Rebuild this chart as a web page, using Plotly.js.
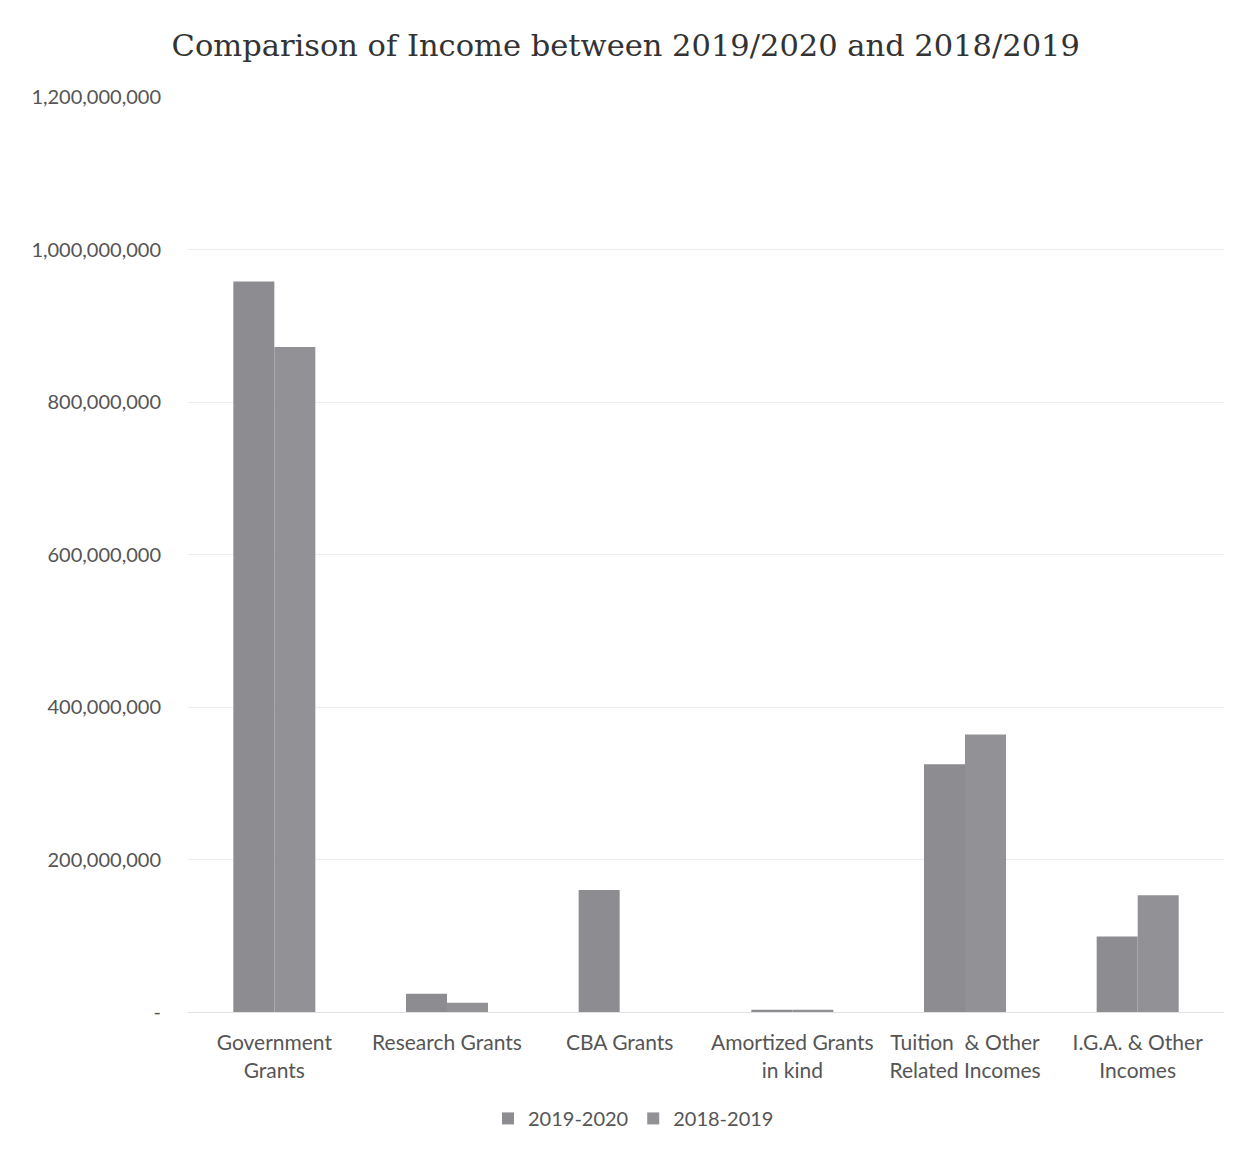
<!DOCTYPE html>
<html>
<head>
<meta charset="utf-8">
<script src="https://cdn.plot.ly/plotly-3.0.1.min.js"></script>
<style>html,body{margin:0;padding:0;background:#fff;}#chart{width:1244px;height:1152px;}</style>
</head>
<body>
<div id="chart"></div>
<script>
const categories = ["Government<br>Grants", "Research Grants", "CBA Grants", "Amortized Grants<br>in kind", "Tuition  & Other<br>Related Incomes", "I.G.A. & Other<br>Incomes"];
const income2019_2020 = [958000000, 24000000, 160000000, 3000000, 325000000, 99000000];
const income2018_2019 = [872000000, 12000000, 0, 3000000, 364000000, 153000000];
const tickValues = [0, 200000000, 400000000, 600000000, 800000000, 1000000000, 1200000000];
const tickLabels = ["-", "200,000,000", "400,000,000", "600,000,000", "800,000,000", "1,000,000,000", "1,200,000,000"];

const traces = [
  {type: "bar", name: "2019-2020", x: categories, y: income2019_2020, marker: {color: "#8d8d91"}},
  {type: "bar", name: "2018-2019", x: categories, y: income2018_2019, marker: {color: "#929296"}}
];
const layout = {
  width: 1244, height: 1152,
  paper_bgcolor: "#fff", plot_bgcolor: "#fff",
  margin: {l: 188, r: 20, t: 97, b: 140},
  title: {text: "Comparison of Income between 2019/2020 and 2018/2019", x: 0.503, xanchor: "center", y: 0.961, yanchor: "middle", font: {family: "DejaVu Serif, serif", size: 30.5, color: "#333"}},
  barmode: "group", bargap: 0.525, bargroupgap: 0,
  font: {family: "Lato, sans-serif", size: 20, color: "#555"},
  xaxis: {tickfont: {size: 21, color: "#555"}, showgrid: false, showline: true, linecolor: "#e2e2e2", ticks: "", automargin: false, ticklabelstandoff: 12},
  yaxis: {range: [0, 1200000000], tickvals: tickValues, ticktext: tickLabels, showgrid: true, gridcolor: "#ececec", zeroline: false, tickfont: {size: 20, color: "#555"}, ticks: "", automargin: false, ticklabelstandoff: 26},
  showlegend: true,
  legend: {orientation: "h", x: 0.43, xanchor: "center", y: -0.095, yanchor: "top", font: {size: 20, color: "#555"}, traceorder: "normal"}
};
Plotly.newPlot("chart", traces, layout, {displayModeBar: false});
</script>
</body>
</html>
